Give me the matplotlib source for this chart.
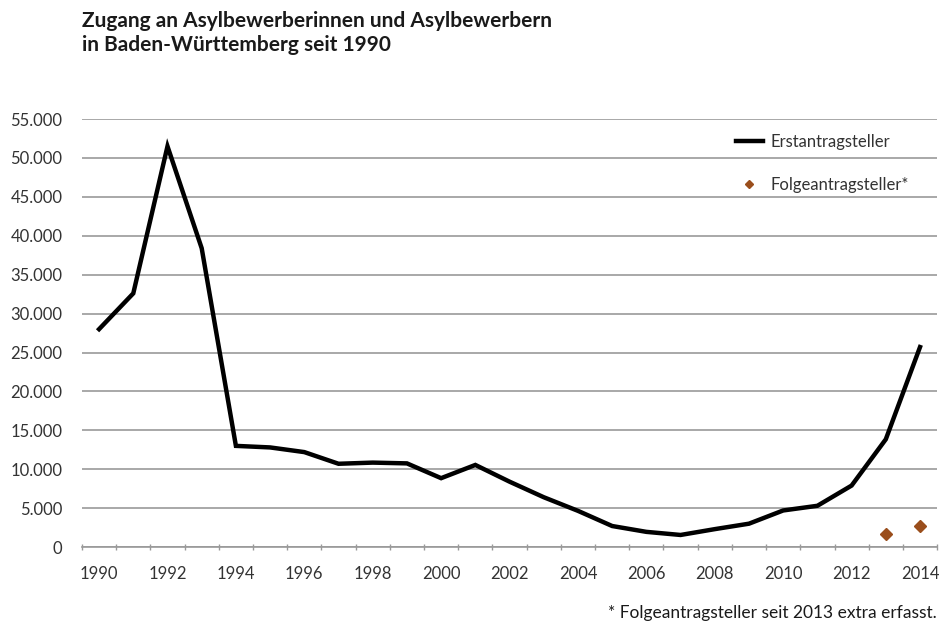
import numpy as np
import matplotlib
matplotlib.use("Agg")
import matplotlib.pyplot as plt
from matplotlib.ticker import FuncFormatter

plt.rcParams['font.family'] = ['Lato', 'DejaVu Sans']

years = list(range(1990, 2015))
erst = [28000, 32600, 51500, 38400, 13000, 12800, 12200, 10700, 10850, 10750,
        8850, 10550, 8400, 6400, 4650, 2700, 1950, 1550, 2300, 3000,
        4700, 5300, 7900, 13850, 25700]
folge_years = [2013, 2014]
folge = [1650, 2700]

x = np.arange(len(years))
fx = [years.index(y) for y in folge_years]

fig = plt.figure(figsize=(9.39, 6.3), dpi=100)
ax = fig.add_axes([0.0873, 0.1317, 0.9107, 0.6793])

ax.plot(x, erst, color='black', lw=3.2, solid_joinstyle='miter', label='Erstantragsteller', zorder=3)
ax.plot(fx, folge, ls='none', marker='D', ms=6, color='#9a4e1c', label='Folgeantragsteller*', zorder=3)

ax.set_xlim(-0.5, len(years) - 0.5)
ax.set_ylim(0, 55000)
ax.set_yticks(np.arange(0, 55001, 5000))
ax.yaxis.set_major_formatter(FuncFormatter(lambda v, p: f"{int(v):,}".replace(',', '.')))
ax.grid(axis='y', color='#a8a8a8', lw=1.4, zorder=0)
ax.set_axisbelow(True)

# boundary ticks without labels, labels at even years
ax.set_xticks(np.arange(-0.5, len(years), 1))
ax.set_xticklabels([])
ax.set_xticks(x[::2], minor=True)
ax.set_xticklabels([str(y) for y in years[::2]], minor=True)
ax.tick_params(axis='x', which='major', direction='inout', length=5, width=1, color='#999999')
ax.tick_params(axis='x', which='minor', length=0, pad=14, labelsize=12, labelcolor='#333333')
ax.tick_params(axis='y', length=0, pad=14, labelsize=12, labelcolor='#333333')

for s in ['top', 'right', 'left']:
    ax.spines[s].set_visible(False)
ax.spines['bottom'].set_color('#999999')
ax.spines['bottom'].set_linewidth(1.2)

leg = ax.legend(loc='upper right', bbox_to_anchor=(0.985, 1.0), frameon=False,
                fontsize=12, handlelength=1.6, labelspacing=1.6, handletextpad=0.5,
                markerscale=0.75)
for t in leg.get_texts():
    t.set_color('#333333')

fig.text(0.087, 0.982, "Zugang an Asylbewerberinnen und Asylbewerbern\nin Baden-Württemberg seit 1990",
         ha='left', va='top', fontsize=15, fontweight='bold', color='#1a1a1a', linespacing=1.25)
fig.text(0.998, 0.014, "* Folgeantragsteller seit 2013 extra erfasst.", ha='right', va='bottom',
         fontsize=12.5, color='#1a1a1a')

fig.savefig('out.png', dpi=100)
